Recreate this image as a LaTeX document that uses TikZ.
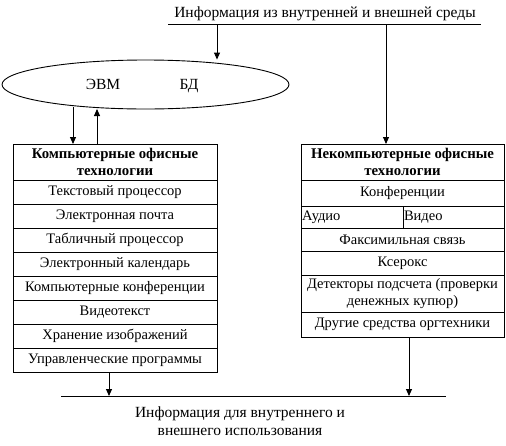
\documentclass[tikz,border=0pt]{standalone}
\usepackage{fontspec}
\setmainfont{Liberation Serif}
\usetikzlibrary{positioning,shapes.geometric,arrows.meta}

\tikzset{
  txt/.style={font=\fontsize{14.5}{17}\selectfont},
  big/.style={font=\fontsize{15.5}{18}\selectfont},
  cell/.style={draw, txt, minimum width=204pt, minimum height=24pt, inner sep=1pt, outer sep=0pt},
  head/.style={cell, minimum height=36pt, align=center, font=\fontsize{14.8}{17}\selectfont\bfseries},
  half/.style={cell, anchor=north west, minimum width=0pt, align=left, minimum height=22pt, inner sep=1pt},
  arr/.style={-{Triangle[length=7pt,width=6pt]}},
}

\begin{document}
\begin{tikzpicture}[x=1pt, y=-1pt, line width=0.9pt]
  \useasboundingbox (0,0) rectangle (506,445);

  % source line
  \node[big, anchor=base] (src) at (325,17) {Информация из внутренней и внешней среды};
  \coordinate (tl) at (168,24);
  \coordinate (tr) at (481,24);
  \coordinate (s1) at (217,24);
  \coordinate (s2) at (386,24);
  \draw (tl) -- (tr);

  % computer + database
  \node[draw, ellipse, minimum width=287pt, minimum height=49pt] (pc) at (145.5,84.5) {};
  \node[big, anchor=base] (evm) at (103,89) {ЭВМ};
  \node[big, anchor=base] (bd)  at (189,89) {БД};
  \coordinate (d1) at (73,107);
  \coordinate (u1) at (97,109);

  % computer office technologies
  \node[head] (lh) at (115,162) {Компьютерные офисные\\технологии};
  \node[cell, below=0pt of lh] (l1) {Текстовый процессор};
  \node[cell, below=0pt of l1] (l2) {Электронная почта};
  \node[cell, below=0pt of l2] (l3) {Табличный процессор};
  \node[cell, below=0pt of l3] (l4) {Электронный календарь};
  \node[cell, below=0pt of l4] (l5) {Компьютерные конференции};
  \node[cell, below=0pt of l5] (l6) {Видеотекст};
  \node[cell, below=0pt of l6] (l7) {Хранение изображений};
  \node[cell, below=0pt of l7] (l8) {Управленческие программы};

  % non-computer office technologies
  \node[head, minimum width=203pt] (rh) at (402.5,162) {Некомпьютерные офисные\\технологии};
  \node[cell, minimum width=203pt, minimum height=26pt, below=0pt of rh] (r1) {Конференции};
  \node[half, text width=100pt] (ra) at (r1.south west) {Аудио};
  \node[half, text width=99pt] (rv) at (ra.north east) {Видео};
  \node[cell, minimum width=203pt, minimum height=23pt, anchor=north west] (r3) at (ra.south west) {Факсимильная связь};
  \node[cell, minimum width=203pt, below=0pt of r3] (r4) {Ксерокс};
  \node[cell, minimum width=203pt, minimum height=37pt, align=center, below=0pt of r4] (r5) {Детекторы подсчета (проверки\\денежных купюр)};
  \node[cell, minimum width=203pt, minimum height=25pt, below=0pt of r5] (r6) {Другие средства оргтехники};

  % result line
  \coordinate (bl) at (61,396);
  \coordinate (br) at (446,396);
  \coordinate (b1) at (109,396);
  \coordinate (b2) at (409,396);
  \draw (bl) -- (br);
  \node[big, align=center] (out) at (240,421) {Информация для внутреннего и\\внешнего использования};

  \draw[arr] (s1) -- (s1 |- pc.north);
  \draw[arr] (s2) -- (s2 |- rh.north);
  \draw[arr] (d1) -- (d1 |- lh.north);
  \draw[arr] (u1 |- lh.north) -- (u1);
  \draw[arr] (b1 |- l8.south) -- (b1);
  \draw[arr] (b2 |- r6.south) -- (b2);
\end{tikzpicture}
\end{document}
